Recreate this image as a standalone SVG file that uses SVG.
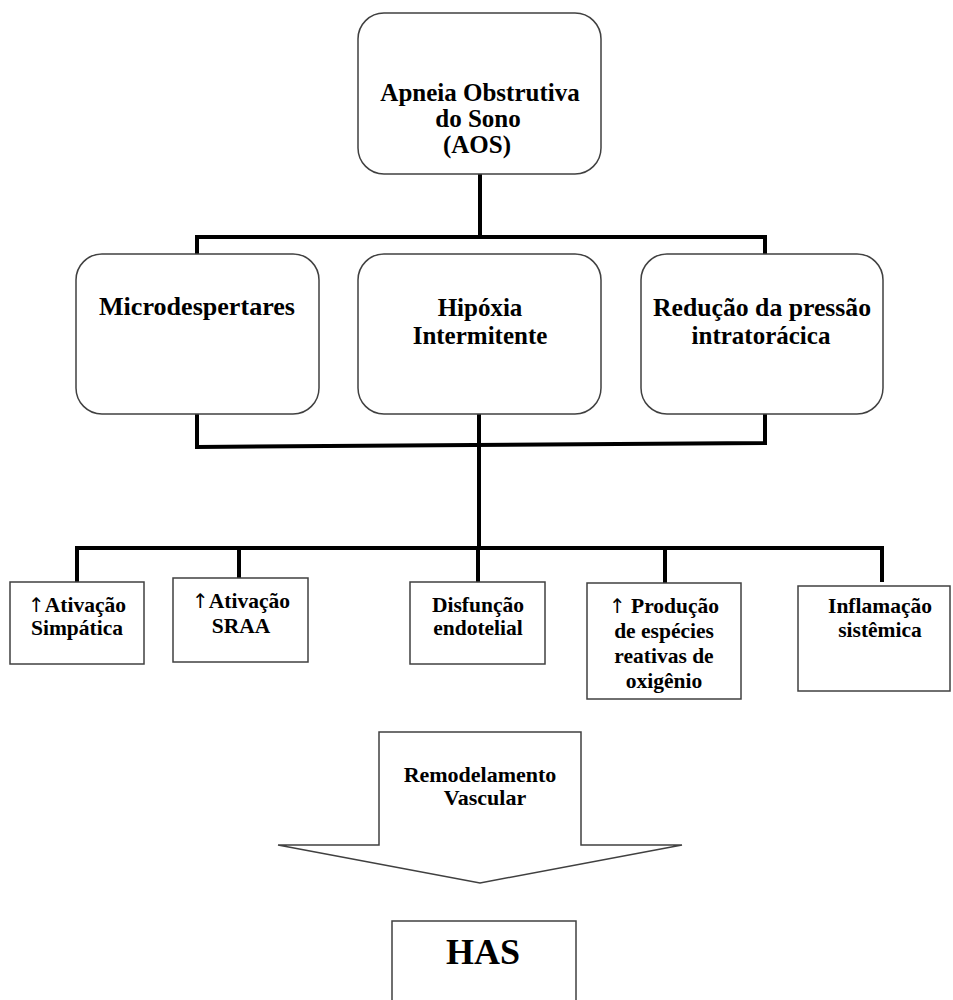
<svg xmlns="http://www.w3.org/2000/svg" width="953" height="1000" viewBox="0 0 953 1000">
<style>
.box{fill:#fff;stroke:#404040;stroke-width:1.5}
.conn{fill:none;stroke:#000;stroke-width:4;stroke-linejoin:miter;stroke-linecap:square}
text{font-family:"Liberation Serif","Times New Roman",serif;font-weight:bold;fill:#000;text-anchor:middle}
.t1{font-size:25px}
.t2{font-size:21.5px}
.t3{font-size:22px}
.t4{font-size:36px}
.arr{font-family:"DejaVu Sans",sans-serif;font-weight:normal;font-size:20px}
</style>
<rect width="953" height="1000" fill="#fff"/>
<g id="connectors">
<path class="conn" d="M480 174V237"/>
<path class="conn" d="M197 254V237H765V254"/>
<path class="conn" d="M197 414V447L765 443V414"/>
<path class="conn" d="M479 414V548"/>
<path class="conn" d="M77 582V548H882V580"/>
<path class="conn" d="M239 548V578"/>
<path class="conn" d="M478 548V582"/>
<path class="conn" d="M665 548V583"/>
</g>
<g id="aos">
<rect class="box" x="358" y="13" width="243" height="161" rx="26"/>
<text class="t1" x="480" y="101">Apneia Obstrutiva</text>
<text class="t1" x="478" y="127">do Sono</text>
<text class="t1" x="477" y="153">(AOS)</text>
</g>
<g id="microdespertares">
<rect class="box" x="76" y="254" width="243" height="160" rx="26"/>
<text class="t1" x="197" y="315" textLength="196" lengthAdjust="spacingAndGlyphs">Microdespertares</text>
</g>
<g id="hipoxia">
<rect class="box" x="358" y="254" width="243" height="160" rx="26"/>
<text class="t1" x="480" y="316">Hipóxia</text>
<text class="t1" x="480" y="344">Intermitente</text>
</g>
<g id="reducao">
<rect class="box" x="641" y="254" width="242" height="160" rx="26"/>
<text class="t1" x="762" y="316" textLength="218" lengthAdjust="spacingAndGlyphs">Redução da pressão</text>
<text class="t1" x="761" y="344">intratorácica</text>
</g>
<g id="simpatica">
<rect class="box" x="10" y="582" width="134" height="82"/>
<text class="t2" x="77" y="612"><tspan class="arr">↑</tspan>Ativação</text>
<text class="t2" x="77" y="635">Simpática</text>
</g>
<g id="sraa">
<rect class="box" x="173" y="578" width="135" height="84"/>
<text class="t2" x="241" y="608"><tspan class="arr">↑</tspan>Ativação</text>
<text class="t2" x="241" y="633">SRAA</text>
</g>
<g id="disfuncao">
<rect class="box" x="410" y="582" width="135" height="82"/>
<text class="t2" x="478" y="612">Disfunção</text>
<text class="t2" x="478" y="635">endotelial</text>
</g>
<g id="producao">
<rect class="box" x="587" y="583" width="154" height="116"/>
<text class="t2" x="664" y="613"><tspan class="arr">↑</tspan> Produção</text>
<text class="t2" x="664" y="638">de espécies</text>
<text class="t2" x="664" y="663">reativas de</text>
<text class="t2" x="664" y="688">oxigênio</text>
</g>
<g id="inflamacao">
<rect class="box" x="798" y="586" width="152" height="105"/>
<text class="t2" x="880" y="613">Inflamação</text>
<text class="t2" x="880" y="637">sistêmica</text>
</g>
<g id="remodelamento">
<polygon class="box" points="379,732 581,732 581,845 682,845 480,883 278,845 379,845"/>
<text class="t3" x="480" y="782">Remodelamento</text>
<text class="t3" x="485" y="805">Vascular</text>
</g>
<g id="has">
<rect class="box" x="392" y="921" width="184" height="90"/>
<text class="t4" x="483" y="964">HAS</text>
</g>
</svg>
